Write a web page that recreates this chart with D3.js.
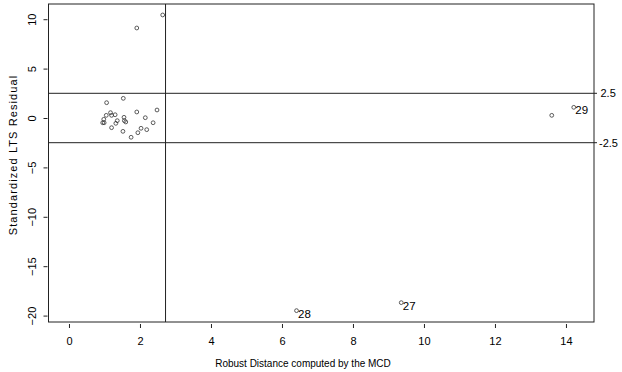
<!DOCTYPE html>
<html>
<head>
<meta charset="utf-8">
<script src="https://cdn.jsdelivr.net/npm/d3@7"></script>
<style>
  body { margin: 0; background: #fff; }
  svg { display: block; font-family: "Liberation Sans", Arial, sans-serif; }
</style>
</head>
<body>
<svg id="chart" width="622" height="372"></svg>
<script>
// robust distance (x) and standardized LTS residual (y)
const distances = [1.06, 1.53, 1.05, 1.17, 1.20, 1.30, 0.98, 0.95, 0.99, 1.36, 1.32, 1.20,
  1.55, 1.56, 1.60, 1.91, 2.48, 2.15, 2.37, 1.52, 2.03, 1.94, 2.19, 1.75,
  2.64, 1.91, 6.41, 9.36, 14.22, 13.60];
const residuals = [1.55, 1.99, 0.27, 0.54, 0.27, 0.33, -0.13, -0.48, -0.48, -0.27, -0.54, -0.98,
  0.07, -0.27, -0.40, 0.61, 0.81, 0.03, -0.48, -1.35, -1.04, -1.49, -1.18, -1.95,
  10.43, 9.11, -19.50, -18.69, 1.08, 0.27];
const pointLabels = ["", "", "", "", "", "", "", "", "", "", "", "",
  "", "", "", "", "", "", "", "", "", "", "", "",
  "", "", "28", "27", "29", ""];
const xTicks = [0, 2, 4, 6, 8, 10, 12, 14];
const yTicks = [10, 5, 0, -5, -10, -15, -20];
const cutoffY = [2.5, -2.5];
const cutoffX = 2.72;

const svg = d3.select("#chart");
const box = { left: 48.5, right: 594, top: 4, bottom: 322 };

const x = d3.scaleLinear().domain([-0.577, 14.79]).range([box.left, box.right]);
const y = d3.scaleLinear().domain([-20.65, 11.54]).range([box.bottom, box.top]);

const ink = "#222";

// frame
svg.append("rect")
  .attr("x", box.left).attr("y", box.top)
  .attr("width", box.right - box.left).attr("height", box.bottom - box.top)
  .attr("fill", "none").attr("stroke", ink).attr("stroke-width", 1);

// x axis
const xAxis = svg.append("g")
  .attr("transform", `translate(0, ${box.bottom + 2})`)
  .call(d3.axisBottom(x).tickValues(xTicks).tickSize(4).tickPadding(9).tickFormat(d3.format("d")));
xAxis.select(".domain").remove();
xAxis.selectAll("line").attr("stroke", ink);
xAxis.selectAll("text").attr("font-size", 11).attr("fill", "#000").attr("font-family", null);

// y axis, rotated labels
const yAxis = svg.append("g")
  .attr("transform", `translate(${box.left - 1}, 0)`)
  .call(d3.axisLeft(y).tickValues(yTicks).tickSize(4).tickFormat(d3.format("d")));
yAxis.select(".domain").remove();
yAxis.selectAll("line").attr("stroke", ink);
yAxis.selectAll("text")
  .attr("font-size", 11).attr("fill", "#000").attr("font-family", null)
  .attr("x", null).attr("dy", null)
  .attr("text-anchor", "middle")
  .attr("transform", "translate(-12,0) rotate(-90)");

// cutoff lines
svg.selectAll(".hcut").data(cutoffY).enter().append("line")
  .attr("x1", box.left).attr("x2", box.right + 3)
  .attr("y1", d => y(d)).attr("y2", d => y(d))
  .attr("stroke", ink);
svg.selectAll(".hcutlab").data(cutoffY).enter().append("text")
  .attr("x", d => box.right + (d < 0 ? 5 : 6.5))
  .attr("y", d => y(d) + 4)
  .attr("font-size", 11)
  .text(d => d);
svg.append("line")
  .attr("x1", x(cutoffX)).attr("x2", x(cutoffX))
  .attr("y1", box.top).attr("y2", box.bottom)
  .attr("stroke", ink);

// points
const pts = distances.map((d, i) => ({ d, r: residuals[i], lab: pointLabels[i] }));
svg.selectAll(".pt").data(pts).enter().append("circle")
  .attr("cx", p => x(p.d)).attr("cy", p => y(p.r))
  .attr("r", 1.9)
  .attr("fill", "none").attr("stroke", "#333").attr("stroke-width", 0.8);
svg.selectAll(".lab").data(pts.filter(p => p.lab)).enter().append("text")
  .attr("x", p => x(p.d) + 1.5).attr("y", p => y(p.r) + 7)
  .attr("font-size", 11.5)
  .text(p => p.lab);

// axis titles
svg.append("text")
  .attr("x", 303).attr("y", 367)
  .attr("text-anchor", "middle").attr("font-size", 10)
  .text("Robust Distance computed by the MCD");
svg.append("text")
  .attr("transform", "translate(17, 155) rotate(-90)")
  .attr("text-anchor", "middle").attr("font-size", 11)
  .attr("letter-spacing", 1.1)
  .text("Standardized LTS Residual");
</script>
</body>
</html>
